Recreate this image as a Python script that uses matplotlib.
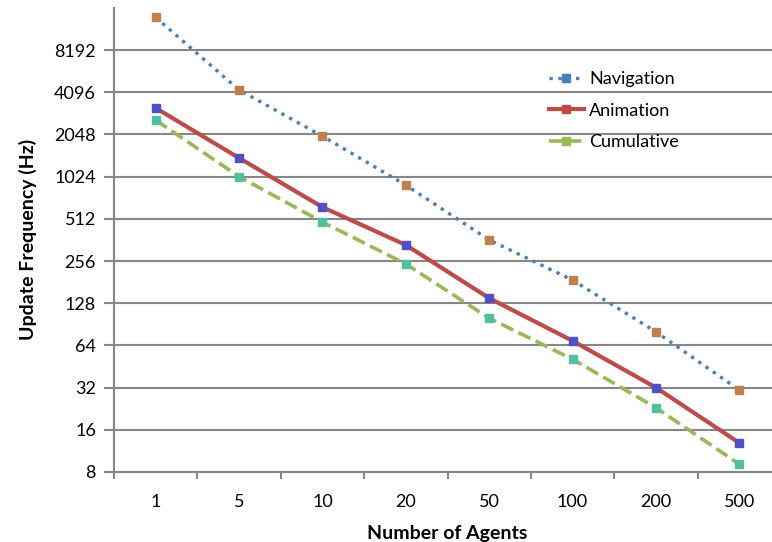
import matplotlib.pyplot as plt
from matplotlib.lines import Line2D
import numpy as np

plt.rcParams['font.family'] = ['Lato', 'DejaVu Sans']

agents = ['1', '5', '10', '20', '50', '100', '200', '500']
navigation = [14000, 4250, 1990, 890, 362, 187, 80, 30.7]
animation = [3160, 1390, 620, 333, 139, 69, 32, 12.9]
cumulative = [2590, 1024, 485, 244, 100, 51, 23, 9.1]
yticks = [8, 16, 32, 64, 128, 256, 512, 1024, 2048, 4096, 8192]

fig = plt.figure(figsize=(7.72, 5.42), dpi=100)
ax = fig.add_axes([114 / 772, 1 - 472 / 542, 667 / 772, (472 - 7.8) / 542])

x = np.arange(len(agents))
series = [
    ('Navigation', navigation, '#4A7EBB', ':', '#C0804A', 2.4),
    ('Animation', animation, '#BE4B48', '-', '#4F4FC8', 3.0),
    ('Cumulative', cumulative, '#98B954', '--', '#50C0A0', 2.6),
]
handles = []
for name, vals, col, ls, mcol, lw in series:
    ax.plot(x, vals, color=col, linestyle=ls, linewidth=lw, zorder=3)
    ax.plot(x, vals, linestyle='none', marker='s', markersize=6,
            color=mcol, zorder=4)
    handles.append(Line2D([], [], color=col, linestyle=ls, linewidth=lw,
                          marker='s', markersize=6, label=name))

ax.set_yscale('log', base=2)
ax.set_ylim(8, 16384)
ax.set_yticks(yticks)
ax.set_yticklabels([str(t) for t in yticks])
ax.yaxis.set_minor_locator(plt.NullLocator())
ax.set_xlim(-0.5, 7.5)
ax.set_xticks(x)
ax.set_xticklabels(agents)
ax.set_xticks(np.arange(-0.5, 7.5, 1), minor=True)
ax.tick_params(axis='x', which='major', length=0, pad=15.5, labelsize=13, colors='#000000')
ax.tick_params(axis='x', which='minor', length=5, width=1.5, color='#878787')
ax.tick_params(axis='y', which='major', length=7, width=1.5, color='#878787', labelsize=13, pad=6)

ax.grid(axis='y', color='#878787', linewidth=1.5)
ax.set_axisbelow(True)
for s in ['top', 'right']:
    ax.spines[s].set_visible(False)
for s in ['left', 'bottom']:
    ax.spines[s].set_color('#878787')
    ax.spines[s].set_linewidth(1.5)

ax.set_xlabel('Number of Agents', fontsize=14, fontweight='bold', labelpad=11)
ax.set_ylabel('Update Frequency (Hz)', fontsize=14, fontweight='bold', labelpad=12)

ax.legend(handles=handles, loc='upper left', bbox_to_anchor=(542 / 772, 1 - 64 / 542),
          bbox_transform=fig.transFigure, borderaxespad=0,
          frameon=False, fontsize=13, handlelength=1.9, labelspacing=0.86,
          handletextpad=0.3)

fig.savefig('out.png', dpi=100)
